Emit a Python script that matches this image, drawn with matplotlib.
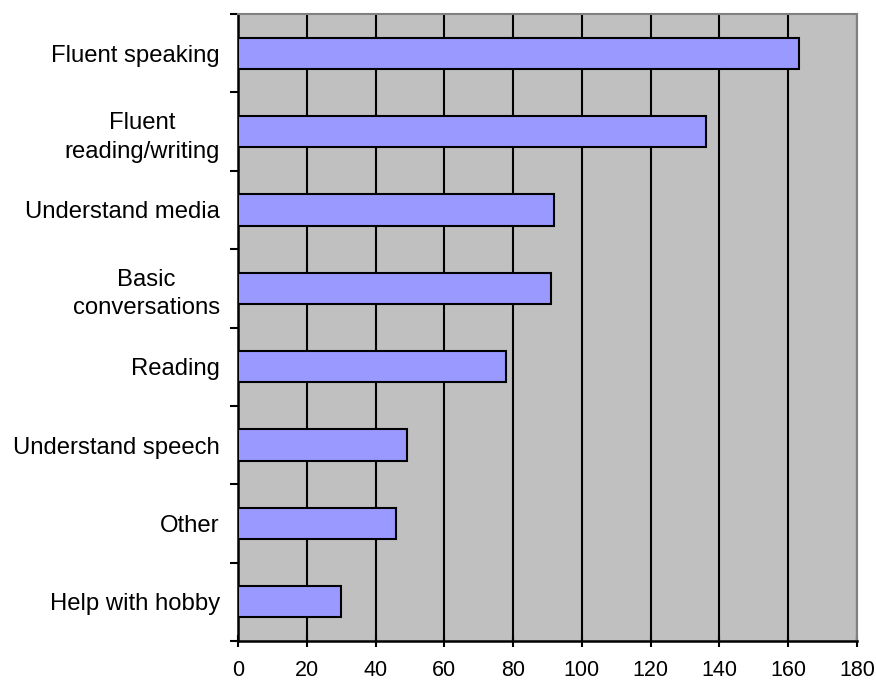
import matplotlib
matplotlib.use("Agg")
import matplotlib.pyplot as plt

categories = ["Fluent speaking", "Fluent\nreading/writing", "Understand media",
              "Basic\nconversations", "Reading", "Understand speech",
              "Other", "Help with hobby"]
counts = [163, 136, 92, 91, 78, 49, 46, 30]
xticks = list(range(0, 181, 20))

plt.rcParams['font.family'] = ['Liberation Sans', 'DejaVu Sans']

fig = plt.figure(figsize=(8.76, 6.81), dpi=100)
ax = fig.add_axes([238 / 876, 40 / 681, 619 / 876, 627 / 681])
ax.set_facecolor('#c0c0c0')

# categories top to bottom
ypos = list(range(len(categories)))
ax.barh(ypos, counts, height=0.4, color='#9999ff', edgecolor='black',
        linewidth=1.5, zorder=3)

ax.set_xlim(0, 180)
ax.set_ylim(len(categories) - 0.5, -0.5)
ax.set_xticks(xticks)
ax.xaxis.grid(True, color='black', linewidth=1.5, zorder=1)
ax.set_axisbelow(True)

# labels sit between tick marks, ticks at category boundaries
ax.set_yticks([i - 0.5 for i in range(len(categories) + 1)])
ax.set_yticklabels([])
ax.set_yticks(ypos, minor=True)
ax.set_yticklabels(categories, minor=True, fontsize=17.2, ha='right',
                   multialignment='center', linespacing=1.38)
ax.tick_params(axis='y', which='minor', length=0, pad=13)
ax.tick_params(axis='y', which='major', length=6, width=1.5, direction='out')
ax.tick_params(axis='x', length=8, width=1.5, direction='inout', labelsize=15.5, pad=10)

for side in ('top', 'right'):
    ax.spines[side].set_color('#808080')
    ax.spines[side].set_linewidth(1.5)
for side in ('left', 'bottom'):
    ax.spines[side].set_color('black')
    ax.spines[side].set_linewidth(1.8)

fig.savefig('out.png', dpi=100)
